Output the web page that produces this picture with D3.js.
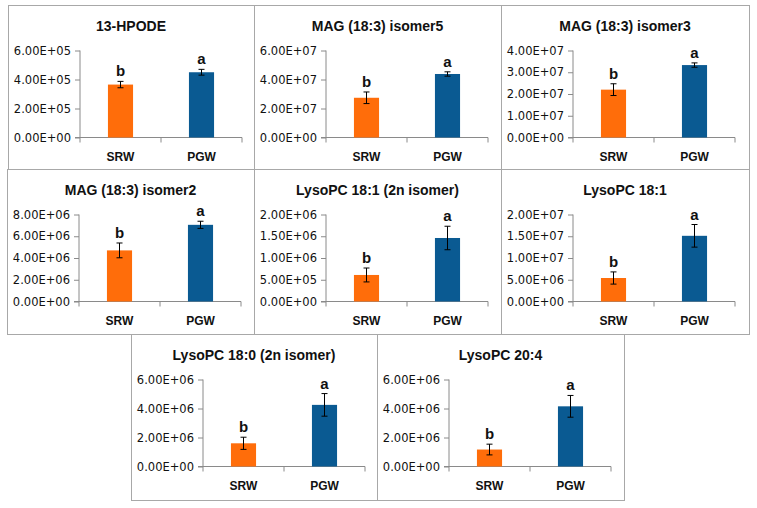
<!DOCTYPE html>
<html><head><meta charset="utf-8">
<script src="https://cdn.jsdelivr.net/npm/d3@7"></script>
<style>body{margin:0;background:#fff}svg{display:block}</style>
</head><body>
<svg id="c" width="757" height="508"></svg>
<script>
const titles = ["13-HPODE","MAG (18:3) isomer5","MAG (18:3) isomer3","MAG (18:3) isomer2","LysoPC 18:1 (2n isomer)","LysoPC 18:1","LysoPC 18:0 (2n isomer)","LysoPC 20:4"];
const categories = ["SRW","PGW"];
const srwValues = [3.65e5, 2.74e7, 2.2e7, 4.7e6, 0.61e6, 0.54e7, 1.6e6, 1.17e6];
const srwErrors = [0.22e5, 0.4e7, 0.27e7, 0.68e6, 0.16e6, 0.14e7, 0.42e6, 0.37e6];
const pgwValues = [4.5e5, 4.38e7, 3.33e7, 7.05e6, 1.46e6, 1.51e7, 4.25e6, 4.15e6];
const pgwErrors = [0.2e5, 0.15e7, 0.1e7, 0.33e6, 0.27e6, 0.26e7, 0.78e6, 0.75e6];
const yMax = [6e5, 6e7, 4e7, 8e6, 2e6, 2e7, 6e6, 6e6];
const yStep = [2e5, 2e7, 1e7, 2e6, 0.5e6, 0.5e7, 2e6, 2e6];
const letters = [["b","a"],["b","a"],["b","a"],["b","a"],["b","a"],["b","a"],["b","a"],["b","a"]];

// layout of the boxes
const boxes = [
  [8,5,246,164],[254,5,247,164],[501,5,248,164],
  [7,169,247,165],[254,169,247,165],[501,169,248,165],
  [131,334,246,166],[377,334,247,166]
];
const colors = {SRW:"#FF6D0A", PGW:"#0A5A92"};

function fmt(v){
  if (v===0) return "0.00E+00";
  const e = Math.floor(Math.log10(v)+1e-9);
  const m = v/Math.pow(10,e);
  return m.toFixed(2)+"E+"+String(e).padStart(2,"0");
}

const svg = d3.select("#c");
svg.append("rect").attr("width",757).attr("height",508).attr("fill","#fff");

titles.forEach((t,i)=>{
  const [x0,y0,w,h] = boxes[i];
  const g = svg.append("g").attr("transform",`translate(${x0},${y0})`);
  g.append("rect").attr("x",0.5).attr("y",0.5).attr("width",w).attr("height",h)
    .attr("fill","none").attr("stroke","#a8a8a8").attr("stroke-width",1);
  g.append("text").attr("x",w/2).attr("y",26).attr("text-anchor","middle")
    .attr("font-family","Liberation Sans, Arial, sans-serif").attr("font-weight","bold")
    .attr("font-size",14).attr("fill","#111").text(t);

  const left = 72, right = 234, top = 45.5, bottom = 132.5;
  const x = d3.scaleBand().domain(categories).range([left,right]).paddingInner(0.69).paddingOuter(0.345);
  const y = d3.scaleLinear().domain([0,yMax[i]]).range([bottom,top]);
  const ticks = d3.range(0, yMax[i]+yStep[i]/2, yStep[i]);

  // y axis
  const ya = g.append("g").attr("transform",`translate(${left},0)`)
    .call(d3.axisLeft(y).tickValues(ticks).tickFormat(fmt).tickSize(5).tickPadding(4));
  ya.select(".domain").attr("stroke","#8a8a8a").attr("d",`M-5,${bottom}H0V${top}`);
  ya.selectAll(".tick line").attr("stroke","#8a8a8a");
  ya.selectAll(".tick text").attr("font-family","DejaVu Sans, sans-serif").attr("font-size",11.5).attr("fill","#111");

  // x axis
  const xa = g.append("g").attr("transform",`translate(0,${bottom})`)
    .call(d3.axisBottom(x).tickSize(0).tickPadding(15));
  xa.select(".domain").attr("stroke","#8a8a8a").attr("d",`M${left},0H${right}`);
  xa.selectAll(".tick text").attr("font-family","Liberation Sans, Arial, sans-serif")
    .attr("font-weight","bold").attr("font-size",12).attr("fill","#111");
  const bounds = [left, (left+right)/2, right];
  g.selectAll(".xtk").data(bounds).enter().append("line")
    .attr("x1",d=>d).attr("x2",d=>d).attr("y1",bottom).attr("y2",bottom+5).attr("stroke","#8a8a8a");

  const rows = categories.map((c,k)=>({c, v: k===0?srwValues[i]:pgwValues[i], e: k===0?srwErrors[i]:pgwErrors[i], l: letters[i][k]}));
  g.selectAll(".bar").data(rows).enter().append("rect")
    .attr("x",d=>x(d.c)).attr("width",x.bandwidth())
    .attr("y",d=>y(d.v)).attr("height",d=>y(0)-y(d.v)).attr("fill",d=>colors[d.c]);
  const eg = g.selectAll(".err").data(rows).enter().append("g");
  const cx = d=>x(d.c)+x.bandwidth()/2;
  eg.append("line").attr("x1",cx).attr("x2",cx).attr("y1",d=>y(d.v+d.e)).attr("y2",d=>y(d.v-d.e)).attr("stroke","#000");
  eg.append("line").attr("x1",d=>cx(d)-3).attr("x2",d=>cx(d)+3).attr("y1",d=>y(d.v+d.e)).attr("y2",d=>y(d.v+d.e)).attr("stroke","#000");
  eg.append("line").attr("x1",d=>cx(d)-3).attr("x2",d=>cx(d)+3).attr("y1",d=>y(d.v-d.e)).attr("y2",d=>y(d.v-d.e)).attr("stroke","#000");
  g.selectAll(".lab").data(rows).enter().append("text")
    .attr("x",cx).attr("y",d=>y(d.v+d.e)-5).attr("text-anchor","middle")
    .attr("font-family","Liberation Sans, Arial, sans-serif").attr("font-weight","bold")
    .attr("font-size",15).attr("fill","#111").text(d=>d.l);
});
</script>
</body></html>
